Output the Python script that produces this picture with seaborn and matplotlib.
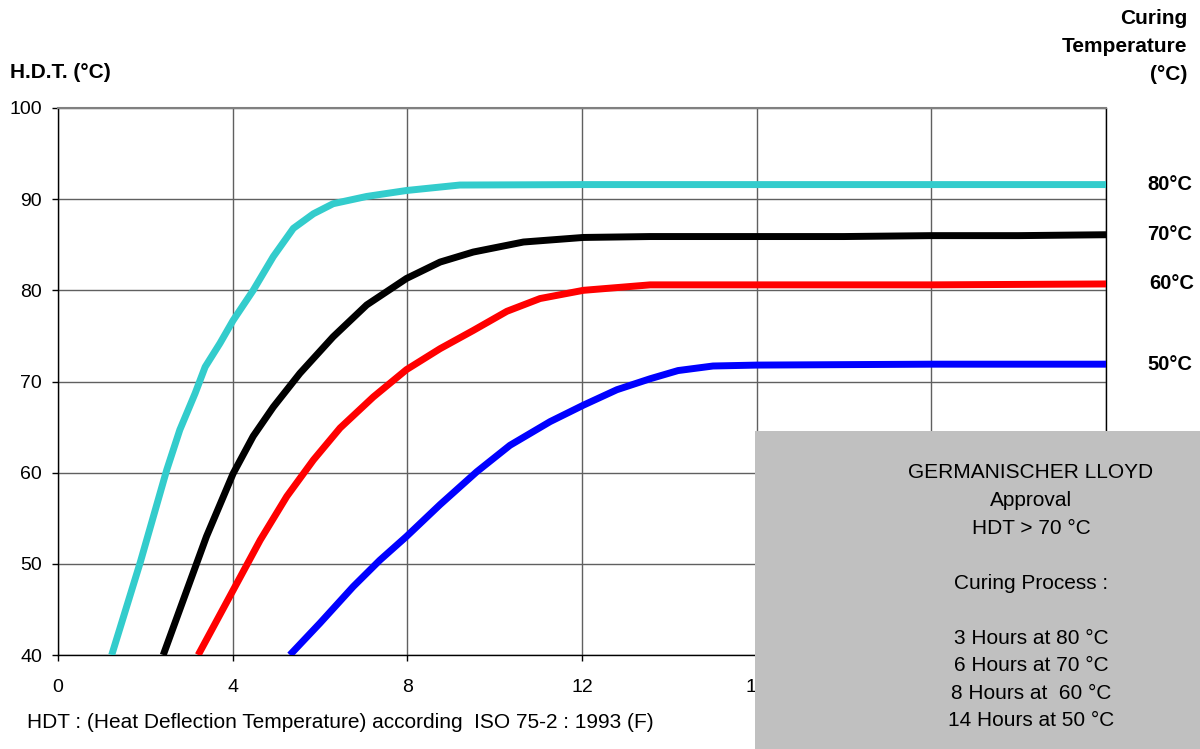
import matplotlib
matplotlib.use("Agg")
import matplotlib.pyplot as plt
import matplotlib.transforms as mtransforms
from matplotlib.patches import Rectangle
import seaborn as sns
import pandas as pd

# curing time (hours) vs H.D.T. (°C)
x_80 = [1.23, 1.88, 2.49, 2.79, 3.14, 3.37, 3.71, 4.01, 4.47, 4.93, 5.39, 5.85, 6.30, 7.07, 7.98, 9.2, 12, 16, 20, 24]
y_80 = [40, 50.1, 60.3, 64.7, 68.7, 71.6, 74.2, 76.7, 80.0, 83.7, 86.8, 88.4, 89.5, 90.3, 90.95, 91.55, 91.6, 91.6, 91.6, 91.6]

x_70 = [2.41, 2.95, 3.40, 4.01, 4.47, 4.93, 5.54, 6.30, 7.07, 7.98, 8.75, 9.51, 10.66, 12.03, 13.56, 16, 18, 20, 22, 24]
y_70 = [40, 47.1, 53.0, 59.9, 64.0, 67.2, 70.9, 74.9, 78.4, 81.3, 83.1, 84.2, 85.3, 85.8, 85.9, 85.9, 85.9, 86.0, 86.0, 86.1]

x_60 = [3.21, 4.01, 4.63, 5.24, 5.85, 6.46, 7.22, 7.98, 8.75, 9.51, 10.28, 11.04, 12.03, 13.56, 16, 20, 24]
y_60 = [40, 47.1, 52.6, 57.4, 61.4, 64.9, 68.3, 71.3, 73.6, 75.6, 77.7, 79.1, 80.0, 80.6, 80.6, 80.6, 80.7]

x_50 = [5.31, 6.0, 6.76, 7.37, 7.98, 8.75, 9.59, 10.35, 11.27, 12.03, 12.8, 13.56, 14.2, 15.0, 16, 20, 24]
y_50 = [40, 43.5, 47.5, 50.4, 53.0, 56.5, 60.1, 63.0, 65.6, 67.4, 69.1, 70.3, 71.2, 71.7, 71.8, 71.9, 71.9]

series = ["80°C", "70°C", "60°C", "50°C"]
colors = ["#33CCCC", "#000000", "#FF0000", "#0000FF"]

x_ticks = [0, 4, 8, 12, 16, 20, 24]
x_tick_labels = ["0", "4", "8", "12", "16", "20", ""]  # 24 sits under the grey box
y_ticks = [40, 50, 60, 70, 80, 90, 100]

box_lines = ["GERMANISCHER LLOYD", "Approval", "HDT > 70 °C", "",
             "Curing Process :", "", "3 Hours at 80 °C", "6 Hours at 70 °C",
             "8 Hours at  60 °C", "14 Hours at 50 °C"]

# long table for seaborn
frames = []
for name, xs, ys in zip(series, [x_80, x_70, x_60, x_50], [y_80, y_70, y_60, y_50]):
    frames.append(pd.DataFrame({"hours": xs, "hdt": ys, "cure": name}))
df = pd.concat(frames, ignore_index=True)

sns.set_style("white")
plt.rcParams["font.family"] = ["Liberation Sans", "DejaVu Sans"]
plt.rcParams["text.color"] = "black"

fig = plt.figure(figsize=(12, 7.49), dpi=100)
ax = fig.add_axes([58 / 1200, 1 - 655 / 749, (1106 - 58) / 1200, (655 - 108) / 749])

sns.lineplot(data=df, x="hours", y="hdt", hue="cure", palette=dict(zip(series, colors)),
             estimator=None, sort=True, lw=5, legend=False, ax=ax, zorder=3)
for ln in ax.lines:
    ln.set_solid_capstyle("butt")
    ln.set_solid_joinstyle("round")

ax.set_xlim(0, 24)
ax.set_ylim(40, 100)
ax.set_xticks(x_ticks)
ax.set_xticklabels(x_tick_labels)
ax.set_yticks(y_ticks)
ax.set_xlabel("")
ax.set_ylabel("")
ax.grid(True, color="#606060", lw=1.0)
ax.set_axisbelow(True)
ax.tick_params(axis="both", direction="out", length=4.5, width=1, color="#000000",
               labelsize=14, colors="#000000", bottom=True, left=True)
ax.tick_params(axis="x", pad=13)
ax.tick_params(axis="y", pad=7)
for side in ["left", "bottom", "right"]:
    ax.spines[side].set_color("#000000")
    ax.spines[side].set_linewidth(1)
ax.spines["top"].set_color("#808080")
ax.spines["top"].set_linewidth(1.5)

# axis titles
fig.text(10 / 1200, 1 - 73 / 749, "H.D.T. (°C)", fontsize=15, fontweight="bold",
         ha="left", va="center")
for i, t in enumerate(["Curing", "Temperature", "(°C)"]):
    fig.text(1187 / 1200, 1 - (18 + 28.5 * i) / 749, t, fontsize=15, fontweight="bold",
             ha="right", va="center")

# series labels at the end of each line
trans = mtransforms.blended_transform_factory(fig.transFigure, ax.transData)
for name, ys, dx in zip(series, [y_80, y_70, y_60, y_50], [1147, 1147, 1149, 1147]):
    ax.text(dx / 1200, ys[-1], name, transform=trans, fontsize=14.5, fontweight="bold",
            ha="left", va="center", clip_on=False)

fig.text(27 / 1200, 1 - 722 / 749,
         "HDT : (Heat Deflection Temperature) according  ISO 75-2 : 1993 (F)",
         fontsize=15, ha="left", va="center")

# grey approval box over the lower right corner
fig.patches.append(Rectangle((755 / 1200, 0), 445 / 1200, (749 - 431) / 749,
                             transform=fig.transFigure, facecolor="#C0C0C0",
                             edgecolor="none", zorder=5))
for i, t in enumerate(box_lines):
    if t:
        fig.text(1031 / 1200, 1 - (473 + 27.55 * i) / 749, t, fontsize=15,
                 ha="center", va="center", zorder=6)

fig.savefig("out.png", dpi=100)
